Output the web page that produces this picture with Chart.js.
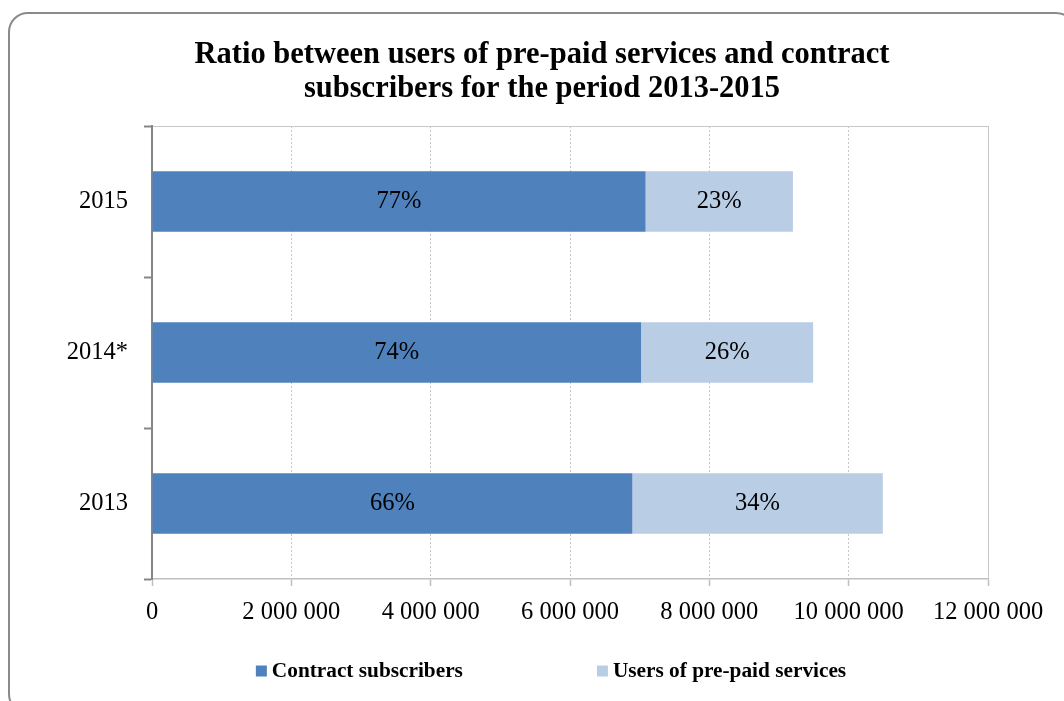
<!DOCTYPE html>
<html>
<head>
<meta charset="utf-8">
<title>Contract vs pre-paid subscribers</title>
<script src="https://cdn.jsdelivr.net/npm/chart.js@4.4.1/dist/chart.umd.min.js"></script>
<style>
    html, body { margin: 0; padding: 0; background: #fff; overflow: hidden; }
    #wrap { position: relative; width: 1064px; height: 701px; }
</style>
</head>
<body>
<div id="wrap"><canvas id="subsChart" width="1064" height="701"></canvas></div>
<script>
// Categories, top to bottom
const years = ['2015', '2014*', '2013'];

// Number of subscribers per year
const contractSubscribers = [7085000, 7020000, 6895000];
const prepaidUsers = [2115000, 2470000, 3595000];

const seriesNames = ['Contract subscribers', 'Users of pre-paid services'];
const xTickValues = [0, 2000000, 4000000, 6000000, 8000000, 10000000, 12000000];

const titleLines = [
    'Ratio between users of pre-paid services and contract',
    'subscribers for the period 2013-2015'
];

const SERIF = "'Liberation Serif', 'Times New Roman', serif";
const COLORS = ['#4f81bd', '#b9cde5'];

// "2000000" -> "2 000 000"
function spaced(v) {
    return String(v).replace(/\B(?=(\d{3})+(?!\d))/g, ' ');
}

// White page + rounded outer frame
const framePlugin = {
    id: 'frame',
    beforeDraw(chart) {
        const ctx = chart.ctx;
        ctx.save();
        ctx.fillStyle = '#fff';
        ctx.fillRect(0, 0, chart.width, chart.height);
        ctx.strokeStyle = '#8a8a8a';
        ctx.lineWidth = 2;
        ctx.beginPath();
        ctx.roundRect(9, 13, 1066, 700, 19);
        ctx.stroke();
        ctx.restore();
    }
};

// Share of each segment in its year's total, written in the middle of the bar
const percentLabels = {
    id: 'percentLabels',
    afterDatasetsDraw(chart) {
        const ctx = chart.ctx;
        const sets = chart.data.datasets;
        ctx.save();
        ctx.font = '24.5px ' + SERIF;
        ctx.fillStyle = '#000';
        ctx.textAlign = 'center';
        ctx.textBaseline = 'middle';
        sets.forEach((ds, di) => {
            chart.getDatasetMeta(di).data.forEach((bar, i) => {
                const total = sets.reduce((s, d) => s + d.data[i], 0);
                const pct = Math.round(ds.data[i] / total * 100);
                ctx.fillText(pct + '%', (bar.x + bar.base) / 2, bar.y);
            });
        });
        ctx.restore();
    }
};

// Legend row under the axis
const legendRow = {
    id: 'legendRow',
    afterDraw(chart) {
        const ctx = chart.ctx;
        const box = 11, gap = 5, itemGap = 134;
        const centerX = 551, y = 671;
        ctx.save();
        ctx.font = 'bold 21.3px ' + SERIF;
        ctx.textBaseline = 'middle';
        const widths = chart.data.datasets.map(ds => box + gap + ctx.measureText(ds.label).width);
        const total = widths.reduce((a, b) => a + b, 0) + itemGap * (widths.length - 1);
        let x = centerX - total / 2;
        chart.data.datasets.forEach((ds, i) => {
            ctx.fillStyle = ds.backgroundColor;
            ctx.fillRect(x, y - box / 2, box, box);
            ctx.fillStyle = '#000';
            ctx.fillText(ds.label, x + box + gap, y);
            x += widths[i] + itemGap;
        });
        ctx.restore();
    }
};

new Chart(document.getElementById('subsChart'), {
    type: 'bar',
    data: {
        labels: years,
        datasets: [
            { label: seriesNames[0], data: contractSubscribers, backgroundColor: COLORS[0] },
            { label: seriesNames[1], data: prepaidUsers, backgroundColor: COLORS[1] }
        ]
    },
    options: {
        indexAxis: 'y',
        responsive: false,
        devicePixelRatio: 1,
        animation: false,
        layout: { padding: { left: 20, right: 0, top: 0, bottom: 60 } },
        datasets: {
            bar: { categoryPercentage: 1, barPercentage: 0.4, borderWidth: 0 }
        },
        scales: {
            x: {
                stacked: true,
                min: 0,
                max: 12000000,
                afterBuildTicks: (scale) => { scale.ticks = xTickValues.map(v => ({ value: v })); },
                afterFit: (scale) => { scale.height = 62; },
                ticks: {
                    color: '#000',
                    font: { family: SERIF, size: 24.5 },
                    padding: 12,
                    maxRotation: 0,
                    callback: (v) => spaced(v)
                },
                grid: {
                    color: '#c8c8c8',
                    lineWidth: 1,
                    tickColor: '#bfbfbf',
                    tickLength: 7,
                    tickWidth: 1.5
                },
                border: {
                    color: '#c0c0c0',
                    width: 1.5,
                    dash: (ctx) => (ctx.index === xTickValues.length - 1 ? [] : [2, 2])
                }
            },
            y: {
                stacked: true,
                afterFit: (scale) => { scale.width = 132; },
                ticks: {
                    color: '#000',
                    font: { family: SERIF, size: 24.5 },
                    padding: 16
                },
                grid: {
                    offset: true,
                    color: (ctx) => (ctx.index === 0 ? '#c8c8c8' : 'rgba(0,0,0,0)'),
                    lineWidth: 1,
                    tickColor: '#868686',
                    tickLength: 8,
                    tickWidth: 2
                },
                border: { color: '#868686', width: 2 }
            },
            // empty strip on the right so the plot stops short of the frame
            spacer: {
                type: 'category',
                position: 'right',
                afterFit: (scale) => { scale.width = 76; },
                ticks: { display: false },
                grid: { display: false },
                border: { display: false }
            }
        },
        plugins: {
            legend: { display: false },
            tooltip: { enabled: false },
            title: {
                display: true,
                text: titleLines,
                color: '#000',
                font: { family: SERIF, size: 30.5, weight: 'bold', lineHeight: 1.12 },
                padding: { top: 38, bottom: 19.7 }
            }
        }
    },
    plugins: [framePlugin, percentLabels, legendRow]
});
</script>
</body>
</html>
